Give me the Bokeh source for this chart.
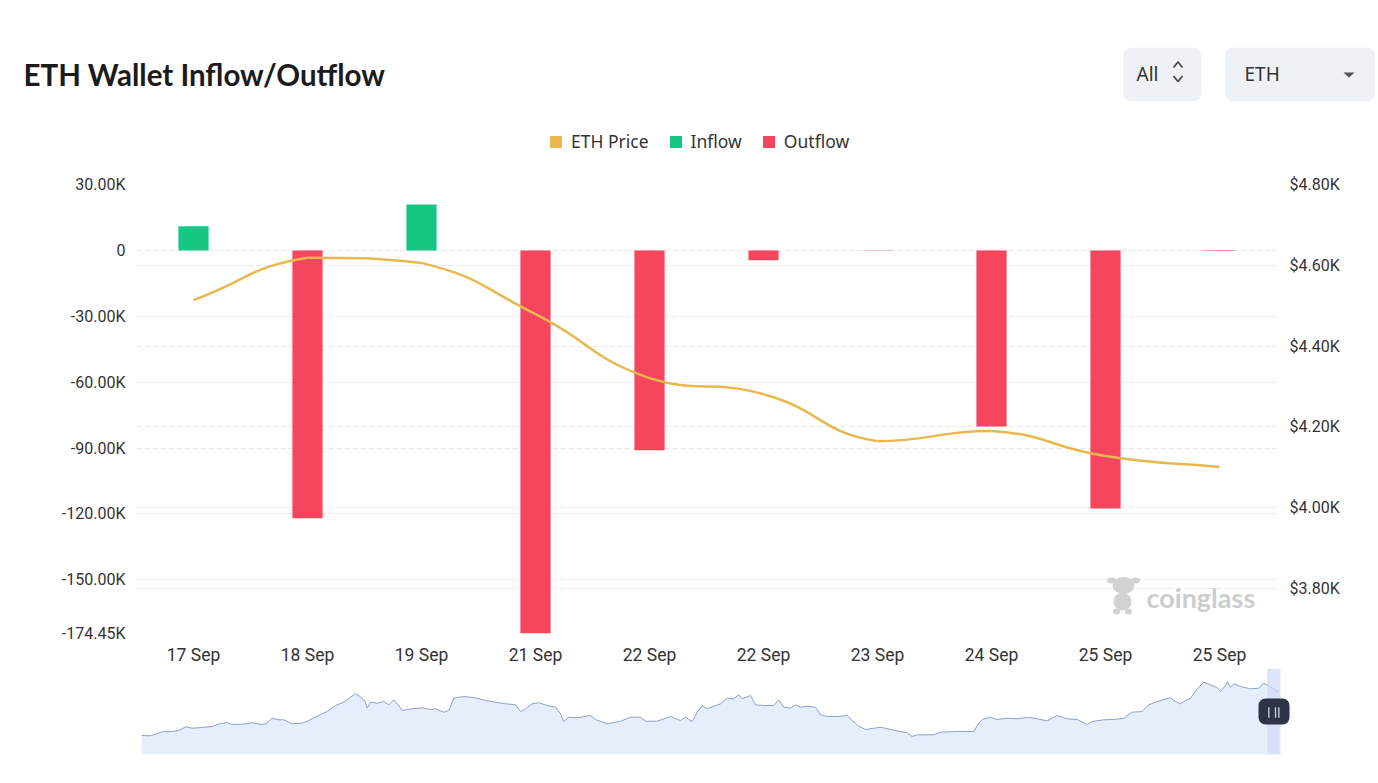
import math
from bokeh.plotting import figure
from bokeh.models import (Range1d, LinearAxis, FixedTicker, CustomJSTickFormatter, Grid,
                          BoxAnnotation, PolyAnnotation, Label, Legend, LegendItem)
from bokeh.layouts import column
from bokeh.embed import file_html
from bokeh.resources import INLINE
from bokeh.core.properties import value

# ---------------- data ----------------
dates = ["17 Sep", "18 Sep", "19 Sep", "21 Sep", "22 Sep", "22 Sep", "23 Sep", "24 Sep", "25 Sep", "25 Sep"]
inflow = [11000, 0, 20900, 0, 0, 0, 0, 0, 0, 0]
outflow = [0, -122000, 0, -174450, -91000, -4500, -150, -80200, -117500, -300]
eth_price = [4514, 4619, 4606, 4479, 4321, 4281, 4165, 4190, 4128, 4101]

left_ticks = [30000, 0, -30000, -60000, -90000, -120000, -150000, -174450]
right_ticks = [3800, 4000, 4200, 4400, 4600, 4800]

# navigator (overview) price history
nav_t = [0, 9, 14, 20.7, 30.7, 37.3, 44, 50.7, 60.7, 70.7, 79, 85.7, 90.7, 100.7, 110.7, 120.7,
         125.7, 130, 137.3, 142.3, 150.7, 160.7, 167.3, 175.7, 185.7, 194, 202.3, 209, 214, 218,
         223.3, 225.7, 229, 235.7, 242.3, 247.3, 252.3, 257.3, 260.7, 270.7, 280.7, 289, 294,
         302.3, 307.3, 312.3, 322.3, 334, 344, 354, 364, 374, 379, 384, 390.7, 397.3, 405.7, 414,
         419, 422.3, 427.3, 435.7, 449, 454, 465.7, 479, 489, 499, 504, 515.7, 529, 539, 544,
         550.7, 555.7, 560.7, 565.7, 572.3, 579, 585.7, 592.3, 597.3, 600.7, 609, 614, 622.3,
         632.3, 637.3, 642.3, 649, 654, 659, 665.7, 674, 679, 685.7, 695.7, 705.7, 710.7, 717.3,
         724, 739, 749, 759, 765.7, 770.7, 775.7, 792.3, 799, 815.7, 832.3, 835.7, 840.7, 849,
         855.7, 865.7, 875.7, 887.3, 895.7, 905.7, 915.7, 925.7, 935.7, 945.7, 950.7, 962.3,
         972.3, 982.3, 990.7, 1000.7, 1007.3, 1015.7, 1029, 1032.3, 1039, 1044, 1049, 1055.7,
         1062.3, 1069, 1075.7, 1079, 1084, 1085.7, 1089, 1092.3, 1099, 1109, 1117.3, 1121.7,
         1127.3, 1132.3, 1137.3]
nav_v = [19, 18.7, 20.3, 22.7, 23, 24, 27.7, 26.3, 27, 28, 31, 32, 30, 30.3, 31.7, 30,
         31.3, 36.3, 34.7, 34.7, 30.7, 31.3, 34, 38.3, 43, 49, 52.3, 57.3, 60.7, 58.3,
         53.7, 46.3, 52.3, 51.3, 53, 49.7, 54.7, 49, 44, 45.7, 46.7, 45, 45.7,
         42.3, 44, 56.3, 58, 56.7, 54, 52.3, 50.7, 49.7, 43, 45.7, 50.7, 51.7, 49, 47.3,
         40.7, 33, 37.3, 36.7, 39, 35, 30.7, 33.3, 37.3, 37.3, 33.3, 33.3, 38, 34, 37.3,
         33, 42.3, 49, 45.7, 48.3, 50.7, 56.3, 55.7, 59.7, 55.7, 59, 49.7, 49,
         49, 54.7, 47.3, 46.3, 49.7, 47.3, 48.3, 47.3, 39.7, 38, 38, 39, 34, 28.3,
         25, 27.3, 25, 23, 21.7, 18, 19.7, 19.7, 22.3, 23, 23, 29, 35, 37.3,
         35, 36.3, 35.7, 37.3, 35.7, 33.7, 39, 35.7, 35, 30, 33, 34.7,
         35, 36.3, 42.3, 43, 49.7, 53, 56.7, 54, 50.7, 54, 56.3, 65.7,
         72.3, 69.7, 66.7, 63, 69, 73, 67.3, 70.7, 68, 65.7, 66.3, 71.3,
         69, 65.7, 62.3]

GREEN = "#16c784"
RED = "#f6465d"
GOLD = "#e8b84e"
W = 1378

# ---------------- header (title, controls, legend) ----------------
HH = 174
def hy(py):
    return HH - py

hdr = figure(width=W, height=HH, x_range=Range1d(0, W), y_range=Range1d(0, HH),
             output_backend="svg", toolbar_location=None, min_border=0,
             x_axis_location=None, y_axis_location=None)
hdr.grid.visible = False
hdr.outline_line_color = None

hdr.add_layout(Label(x=23, y=hy(74), text="ETH Wallet Inflow/Outflow", text_font="Lato",
                     text_font_style="bold", text_font_size="29.5px", text_color="#1b1b1b",
                     text_baseline="middle", text_align="left"))

# selectors
hdr.add_layout(BoxAnnotation(left=1123, right=1200.5, bottom=hy(100.5), top=hy(47.5),
                             fill_color="#eef1f5", fill_alpha=1, line_color="#e3e6eb", line_width=1,
                             border_radius=8))
hdr.add_layout(BoxAnnotation(left=1225, right=1374, bottom=hy(100.5), top=hy(47.5),
                             fill_color="#eef1f5", fill_alpha=1, line_color="#e3e6eb", line_width=1,
                             border_radius=8))
for tx, tt in [(1136, "All"), (1244, "ETH")]:
    hdr.add_layout(Label(x=tx, y=hy(73.5), text=tt, text_font="Noto Sans", text_font_size="19px",
                         text_color="#333333", text_baseline="middle", text_align="left"))
hdr.multi_line(xs=[[1173, 1177.5, 1182], [1173, 1177.5, 1182]],
               ys=[[hy(67), hy(61.5), hy(67)], [hy(75.5), hy(81), hy(75.5)]],
               line_color="#4a4a4a", line_width=1.8, level="overlay")
hdr.add_layout(PolyAnnotation(xs=[1343, 1354, 1348.5], ys=[hy(72), hy(72), hy(77)],
                              fill_color="#555555", fill_alpha=1, line_color=None))

# legend (proxy renderers)
nan = float("nan")
r_p = hdr.quad(left=[nan], right=[nan], top=[nan], bottom=[nan], fill_color=GOLD, line_color=None)
r_i = hdr.quad(left=[nan], right=[nan], top=[nan], bottom=[nan], fill_color=GREEN, line_color=None)
r_o = hdr.quad(left=[nan], right=[nan], top=[nan], bottom=[nan], fill_color=RED, line_color=None)
legend = Legend(items=[LegendItem(label="ETH Price", renderers=[r_p]),
                       LegendItem(label="Inflow", renderers=[r_i]),
                       LegendItem(label="Outflow", renderers=[r_o])],
                orientation="horizontal", location=(548, HH - 142 - 11),
                glyph_width=15, glyph_height=15, label_standoff=8, spacing=19,
                padding=0, margin=0, border_line_color=None, background_fill_alpha=0,
                label_text_font="Noto Sans", label_text_font_size="17.5px",
                label_text_color="#333333", label_height=15)
hdr.add_layout(legend)

# ---------------- main chart ----------------
FL, FR = 136, 102
FT, FB, FH = 10, 35, 449
FTOP = HH + FT            # page y of the frame top (184)
P_MIN, P_MAX = 3689, 4800
main = figure(width=W, height=FT + FH + FB, x_range=Range1d(-0.5, 9.5),
              y_range=Range1d(min(left_ticks), max(left_ticks)),
              output_backend="svg", toolbar_location=None,
              min_border_left=FL, min_border_right=FR, min_border_top=FT, min_border_bottom=FB)
main.extra_y_ranges = {"price": Range1d(P_MIN, P_MAX)}
main.outline_line_color = None

xs = list(range(len(dates)))
main.xaxis.ticker = FixedTicker(ticks=xs)
main.xaxis.major_label_overrides = {i: d for i, d in enumerate(dates)}
main.yaxis.ticker = FixedTicker(ticks=left_ticks)
main.yaxis.formatter = CustomJSTickFormatter(
    code="return tick == 0 ? '0' : (tick/1000).toFixed(2) + 'K';")
raxis = LinearAxis(y_range_name="price", ticker=FixedTicker(ticks=right_ticks),
                   formatter=CustomJSTickFormatter(code="return '$' + (tick/1000).toFixed(2) + 'K';"))
main.add_layout(raxis, "right")

for ax in main.axis:
    ax.axis_line_color = None
    ax.major_tick_line_color = None
    ax.minor_tick_line_color = None
    ax.major_tick_out = 0
    ax.major_tick_in = 0
    ax.minor_tick_out = 0
    ax.minor_tick_in = 0
    ax.major_label_text_font = "Roboto"
    ax.major_label_text_font_size = "16px"
    ax.major_label_text_color = "#333333"
main.xaxis.major_label_text_font_size = "17.5px"
main.xaxis.major_label_standoff = 11
main.yaxis[0].major_label_standoff = 11
raxis.major_label_standoff = 13

main.xgrid.visible = False
main.ygrid.ticker = main.yaxis[0].ticker
main.ygrid.grid_line_color = "#e6e6e6"
main.ygrid.grid_line_dash = "5 3"
main.add_layout(Grid(dimension=1, ticker=raxis.ticker, y_range_name="price",
                     grid_line_color="#e6e6e6", grid_line_dash="5 3"))

main.vbar(x=xs, bottom=0, top=inflow, width=0.265, fill_color=GREEN, line_color=None)
main.vbar(x=xs, bottom=outflow, top=0, width=0.265, fill_color=RED, line_color=None)

# smooth price line (cubic bezier segments, echarts-like smoothing)
sx = (W - FL - FR) / 10.0
sy = FH / float(P_MAX - P_MIN)
pts = [(i * sx, p * sy) for i, p in enumerate(eth_price)]
n = len(pts)
smooth = 0.5
cin, cout = [], []
for i, (x, y) in enumerate(pts):
    px_, py_ = pts[i - 1] if i > 0 else pts[i]
    nx_, ny_ = pts[i + 1] if i < n - 1 else pts[i]
    vx, vy = nx_ - px_, ny_ - py_
    l0 = math.hypot(x - px_, y - py_)
    l1 = math.hypot(nx_ - x, ny_ - y)
    r = l1 / (l0 + l1) if (l0 + l1) else 0
    ax_, ay_ = x - vx * smooth * (1 - r), y - vy * smooth * (1 - r)
    bx_, by_ = x + vx * smooth * r, y + vy * smooth * r
    ax_ = min(max(ax_, min(px_, x)), max(px_, x)); ay_ = min(max(ay_, min(py_, y)), max(py_, y))
    bx_ = min(max(bx_, min(nx_, x)), max(nx_, x)); by_ = min(max(by_, min(ny_, y)), max(ny_, y))
    cin.append((ax_, ay_)); cout.append((bx_, by_))
seg = dict(x0=[], y0=[], x1=[], y1=[], cx0=[], cy0=[], cx1=[], cy1=[])
for i in range(n - 1):
    seg["x0"].append(pts[i][0] / sx); seg["y0"].append(pts[i][1] / sy)
    seg["x1"].append(pts[i + 1][0] / sx); seg["y1"].append(pts[i + 1][1] / sy)
    seg["cx0"].append(cout[i][0] / sx); seg["cy0"].append(cout[i][1] / sy)
    seg["cx1"].append(cin[i + 1][0] / sx); seg["cy1"].append(cin[i + 1][1] / sy)
main.bezier(line_color=GOLD, line_width=2.5, y_range_name="price", **seg)

# watermark
def px2x(px):
    return -0.5 + (px - FL) / sx
def py2y(py):
    return max(left_ticks) - (py - FTOP) * (max(left_ticks) - min(left_ticks)) / FH
main.text(x=[px2x(1146)], y=[py2y(597)], text=["coinglass"], text_font=value("Lato"),
          text_font_style="bold", text_font_size="27px", text_color="#cdcdcd",
          text_baseline="middle", text_align="left")
cx = [1123, 1111, 1135, 1122, 1116, 1128]
cy = [585, 580, 580, 601, 611, 611]
cw = [22, 9, 9, 18, 7, 7]
ch = [17, 6, 6, 18, 6, 6]
main.ellipse(x=[px2x(v) for v in cx], y=[py2y(v) for v in cy], width=cw, height=ch,
             width_units="screen", height_units="screen", fill_color="#d2d2d2", line_color=None)

# ---------------- navigator ----------------
NX0 = 141            # page x where nav_t == 0
NRIGHT = 1295        # page x of the navigator frame's right edge
NTOP = FTOP + FH + FB  # page y where the navigator figure starts
NH = 754 - NTOP      # frame height down to the strip's base
nav = figure(width=W, height=NH + 12, x_range=Range1d(0, NRIGHT - NX0), y_range=Range1d(0, NH),
             output_backend="svg", toolbar_location=None,
             min_border_left=NX0, min_border_right=W - NRIGHT, min_border_top=0, min_border_bottom=12,
             x_axis_location=None, y_axis_location=None)
nav.grid.visible = False
nav.outline_line_color = None
nav.varea(x=nav_t, y1=0, y2=nav_v, fill_color="#e7eefb")
nav.line(x=nav_t, y=nav_v, line_color="#8aa1cc", line_width=1)
nav.add_layout(BoxAnnotation(left=1266.7 - NX0, right=1280 - NX0, bottom=0, top=NH,
                             fill_color="#cfdcf5", fill_alpha=0.7, line_color=None))
nav.add_layout(BoxAnnotation(left=1258 - NX0, right=1289 - NX0, bottom=754 - 724, top=754 - 698,
                             fill_color="#2e3446", fill_alpha=1, line_color=None, border_radius=7))
for gx in [1268.3, 1275, 1278.3]:
    nav.add_layout(BoxAnnotation(left=gx - NX0 - 0.7, right=gx - NX0 + 0.7,
                                 bottom=754 - 717.3, top=754 - 706.7,
                                 fill_color="#c5c9d3", fill_alpha=1, line_color=None))

layout = column(column(hdr), main, column(nav), spacing=0)
open("out.html", "w").write(file_html(layout, INLINE))
